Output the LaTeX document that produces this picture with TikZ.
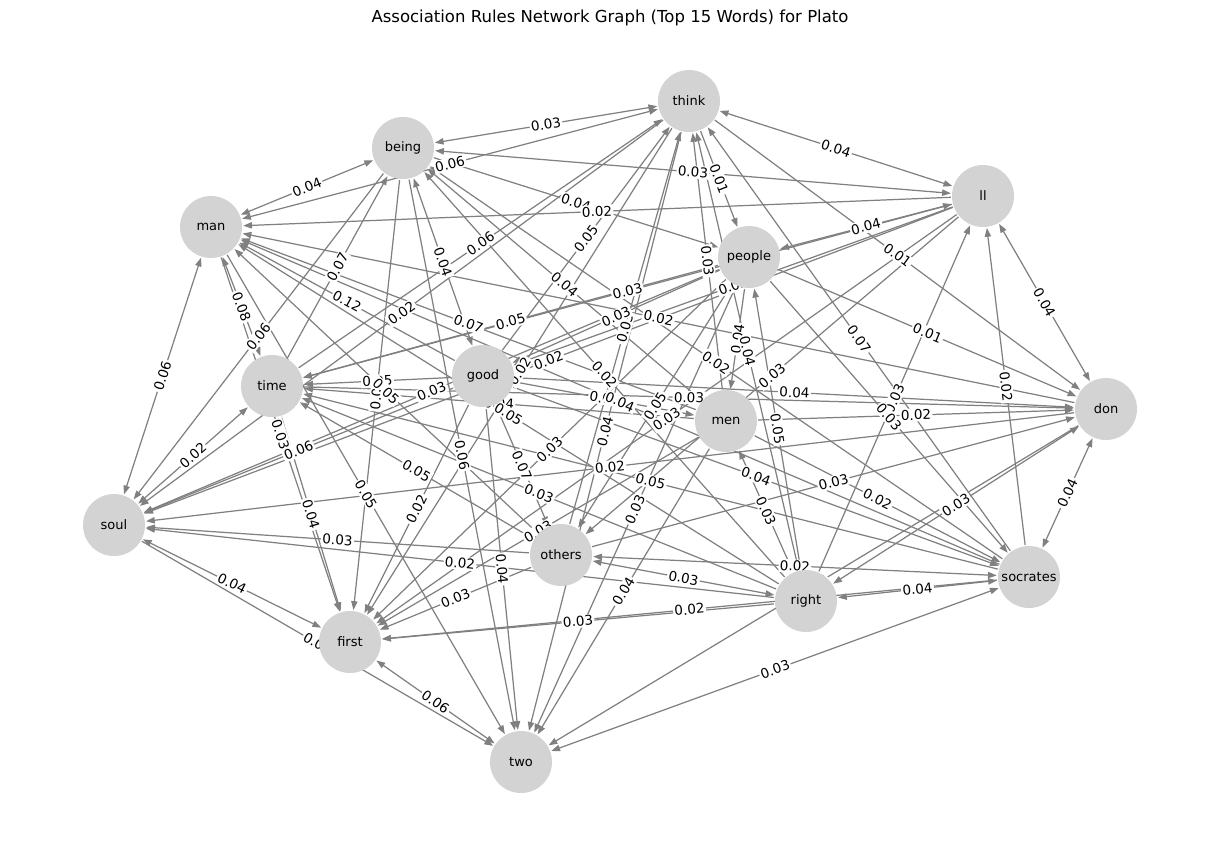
\documentclass[tikz,border=0pt]{standalone}
\usepackage{fontspec}
\setmainfont{DejaVu Sans}
\usetikzlibrary{arrows.meta}
\pgfdeclarelayer{edges}
\pgfdeclarelayer{labels}
\pgfsetlayers{edges,labels,main}
\definecolor{nodegray}{RGB}{211,211,211}
\definecolor{edgegray}{RGB}{128,128,128}
\tikzset{
  wnode/.style={circle,fill=nodegray,minimum size=1.24cm,inner sep=0pt,font=\fontsize{7.4}{8}\selectfont},
  arr/.style={draw=edgegray,line width=0.7pt,>={Triangle[length=5pt,width=3.6pt]},shorten >=0.5pt,shorten <=0.5pt},
  lbl/.style={fill=white,inner sep=0.8pt,font=\fontsize{7.7}{8}\selectfont,text=black},
}
\newcommand\ed[4]{%
  \begin{pgfonlayer}{edges}\draw[arr,#4] (#1) -- (#2);\end{pgfonlayer}%
  \begin{pgfonlayer}{labels}\path (#1) -- (#2) node[lbl,midway,sloped] {#3};\end{pgfonlayer}}
\begin{document}
\begin{tikzpicture}[x=0.02cm,y=-0.02cm]
\useasboundingbox (0,0) rectangle (1220,842);
\node[font=\fontsize{9.4}{11}\selectfont] (title) at (610,18) {Association Rules Network Graph (Top 15 Words) for Plato};
\node[wnode] (think) at (689,101) {think};
\node[wnode] (being) at (403,148) {being};
\node[wnode] (man) at (211,227) {man};
\node[wnode] (ll) at (983,196) {ll};
\node[wnode] (people) at (749,257) {people};
\node[wnode] (time) at (272,386) {time};
\node[wnode] (good) at (483,376) {good};
\node[wnode] (men) at (726,421) {men};
\node[wnode] (don) at (1106,409) {don};
\node[wnode] (soul) at (114,525) {soul};
\node[wnode] (others) at (561,555) {others};
\node[wnode] (socrates) at (1029,577) {socrates};
\node[wnode] (right) at (806,601) {right};
\node[wnode] (first) at (350,642) {first};
\node[wnode] (two) at (521,762) {two};
% edges
\ed{being}{think}{0.03}{<->}
\ed{man}{think}{0.06}{<->}
\ed{man}{being}{0.04}{<->}
\ed{think}{ll}{0.04}{<->}
\ed{ll}{being}{0.03}{<->}
\ed{think}{people}{0.01}{->}
\ed{being}{people}{0.04}{->}
\ed{ll}{man}{0.02}{->}
\ed{good}{think}{0.05}{->}
\ed{time}{think}{0.06}{->}
\ed{being}{good}{0.04}{<->}
\ed{time}{being}{0.07}{->}
\ed{good}{man}{0.12}{->}
\ed{think}{soul}{0.02}{->}
\ed{man}{time}{0.08}{<->}
\ed{being}{soul}{0.06}{->}
\ed{man}{soul}{0.06}{<->}
\ed{men}{man}{0.07}{->}
\ed{people}{time}{0.05}{->}
\ed{ll}{time}{0.03}{->}
\ed{men}{think}{0.03}{->}
\ed{ll}{good}{0.02}{->}
\ed{others}{think}{0.03}{->}
\ed{don}{man}{0.02}{->}
\ed{people}{good}{0.03}{->}
\ed{people}{men}{0.04}{->}
\ed{right}{think}{0.04}{->}
\ed{socrates}{think}{0.07}{->}
\ed{think}{don}{0.01}{->}
\ed{people}{ll}{0.04}{<->}
\ed{people}{don}{0.01}{->}
\ed{ll}{don}{0.04}{<->}
\ed{socrates}{ll}{0.02}{->}
\ed{men}{don}{0.02}{->}
\ed{right}{ll}{0.03}{->}
\ed{people}{socrates}{0.03}{->}
\ed{don}{socrates}{0.04}{<->}
\ed{good}{don}{0.04}{->}
\ed{time}{don}{0.03}{->}
\ed{right}{people}{0.05}{->}
\ed{men}{right}{0.03}{<->}
\ed{good}{socrates}{0.04}{->}
\ed{others}{don}{0.03}{->}
\ed{men}{socrates}{0.02}{->}
\ed{right}{don}{0.03}{<->}
\ed{others}{socrates}{0.02}{<->}
\ed{right}{socrates}{0.04}{<->}
\ed{two}{socrates}{0.03}{<->}
\ed{others}{right}{0.03}{<->}
\ed{socrates}{first}{0.02}{->}
\ed{right}{first}{0.03}{->}
\ed{men}{two}{0.04}{->}
\ed{others}{first}{0.03}{->}
\ed{right}{soul}{0.02}{->}
\ed{others}{soul}{0.03}{->}
\ed{soul}{first}{0.04}{<->}
\ed{first}{two}{0.06}{<->}
\ed{soul}{two}{0.03}{->}
\ed{good}{two}{0.04}{->}
\ed{good}{first}{0.02}{->}
\ed{man}{two}{0.05}{->}
\ed{others}{time}{0.05}{->}
\ed{time}{first}{0.04}{->}
\ed{man}{first}{0.03}{->}
\ed{good}{soul}{0.06}{->}
\ed{soul}{time}{0.02}{<->}
\ed{good}{time}{0.05}{->}
\ed{people}{soul}{0.03}{->}
\ed{being}{first}{0.05}{->}
\ed{others}{man}{0.05}{->}
\ed{being}{two}{0.06}{->}
\ed{good}{others}{0.07}{->}
\ed{people}{first}{0.03}{->}
\ed{right}{time}{0.03}{->}
\ed{men}{first}{0.03}{->}
\ed{don}{soul}{0.02}{->}
\ed{think}{two}{0.04}{->}
\ed{people}{others}{0.05}{->}
\ed{ll}{first}{0.03}{->}
\ed{good}{men}{0.02}{->}
\ed{socrates}{man}{0.04}{->}
\ed{right}{being}{0.02}{->}
\ed{ll}{soul}{0.02}{->}
\ed{think}{first}{0.02}{->}
\ed{socrates}{being}{0.02}{->}
\ed{socrates}{time}{0.05}{->}
\ed{people}{two}{0.03}{->}
\ed{men}{time}{0.04}{->}
\ed{right}{man}{0.05}{->}
\ed{ll}{others}{0.03}{->}
\ed{men}{being}{0.04}{->}
\ed{don}{two}{0.02}{->}
\end{tikzpicture}
\end{document}
